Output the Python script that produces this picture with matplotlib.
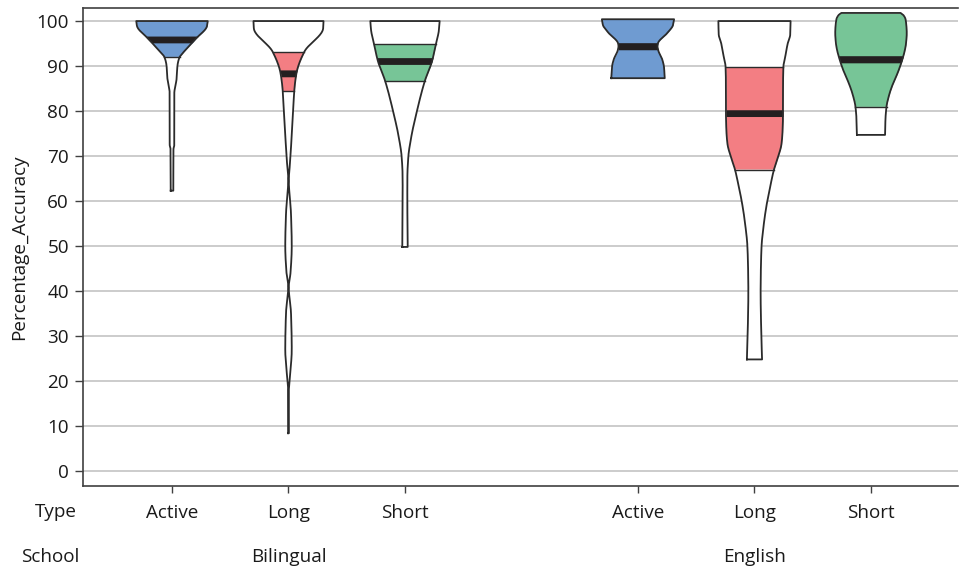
import numpy as np
import matplotlib
matplotlib.use("Agg")
import matplotlib.pyplot as plt
from matplotlib.transforms import blended_transform_factory

plt.rcParams['font.family'] = ['Open Sans', 'DejaVu Sans']

# Groups and categories
schools = ["Bilingual", "English"]
types = ["Active", "Long", "Short"]
positions = [0, 1, 2, 4, 5, 6]
type_labels = ["Active", "Long", "Short", "Active", "Long", "Short"]

# Quartile summaries per violin (Bilingual Active, Long, Short, English Active, Long, Short)
q1 = [92.1, 84.5, 86.7, 87.3, 67.0, 81.0]
median = [95.9, 88.4, 91.1, 94.4, 79.5, 91.5]
q3 = [100.0, 93.2, 95.0, 100.4, 89.8, 101.8]

# Relative density profiles (value levels and normalized half-widths)
ba_y = [62.3, 71.5, 72.5, 84.0, 85.5, 87.0, 90.0, 92.0, 93.0, 96.0, 98.9, 100.0]
ba_w = [0.036, 0.04, 0.064, 0.064, 0.09, 0.125, 0.15, 0.21, 0.31, 0.65, 0.97, 0.99]

bl_y = [8.4, 18.0, 21.0, 27.0, 35.0, 41.0, 44.0, 50.0, 57.0, 65.0, 67.6, 72.0, 79.5, 84.5, 88.4, 93.2, 98.4, 100.0]
bl_w = [0.01, 0.01, 0.04, 0.09, 0.07, 0.006, 0.055, 0.09, 0.07, 0.006, 0.033, 0.07, 0.125, 0.16, 0.22, 0.44, 0.96, 0.97]

bs_y = [49.8, 55.0, 59.5, 65.4, 69.8, 74.3, 79.8, 86.7, 91.1, 95.0, 98.0, 100.0]
bs_w = [0.075, 0.07, 0.064, 0.066, 0.092, 0.175, 0.325, 0.55, 0.75, 0.86, 0.94, 0.96]

ea_y = [87.3, 89.8, 91.5, 93.5, 94.4, 95.0, 97.5, 99.1, 100.4]
ea_w = [0.74, 0.72, 0.67, 0.56, 0.54, 0.55, 0.83, 0.97, 1.0]

el_y = [24.8, 30.0, 39.8, 44.0, 49.8, 55.0, 59.8, 63.0, 67.0, 69.0, 72.8, 76.0, 79.5, 85.0, 89.8, 92.0, 95.0, 97.0, 100.0]
el_w = [0.21, 0.19, 0.17, 0.175, 0.195, 0.26, 0.35, 0.43, 0.54, 0.62, 0.75, 0.78, 0.79, 0.79, 0.80, 0.85, 0.92, 0.99, 1.0]

es_y = [74.7, 78.0, 81.0, 83.5, 86.1, 88.5, 91.5, 93.6, 95.0, 97.3, 100.3, 101.3, 101.8]
es_w = [0.39, 0.40, 0.43, 0.50, 0.61, 0.74, 0.87, 0.94, 0.97, 0.99, 0.96, 0.90, 0.82]

profiles = [(ba_y, ba_w), (bl_y, bl_w), (bs_y, bs_w),
            (ea_y, ea_w), (el_y, el_w), (es_y, es_w)]

colors = ["#6f9bd1", "#f37e83", "#77c597", "#6f9bd1", "#f37e83", "#77c597"]

MAX_HALF = 0.31
EDGE = "#2b2b2b"
TEXT = "#1a1a1a"
FS = 13.6


def pchip(x, y, xn):
    """Monotone cubic (Fritsch-Carlson) interpolation."""
    x = np.asarray(x, float)
    y = np.asarray(y, float)
    h = np.diff(x)
    d = np.diff(y) / h
    m = np.zeros_like(y)
    for k in range(1, len(y) - 1):
        if d[k - 1] * d[k] > 0:
            w1 = 2 * h[k] + h[k - 1]
            w2 = h[k] + 2 * h[k - 1]
            m[k] = (w1 + w2) / (w1 / d[k - 1] + w2 / d[k])
    m[0] = d[0]
    m[-1] = d[-1]
    idx = np.clip(np.searchsorted(x, xn) - 1, 0, len(x) - 2)
    t = (xn - x[idx]) / h[idx]
    h00 = 2 * t**3 - 3 * t**2 + 1
    h10 = t**3 - 2 * t**2 + t
    h01 = -2 * t**3 + 3 * t**2
    h11 = t**3 - t**2
    return h00 * y[idx] + h10 * h[idx] * m[idx] + h01 * y[idx + 1] + h11 * h[idx] * m[idx + 1]


fig = plt.figure(figsize=(9.6, 5.68), dpi=100)
ax = fig.add_axes([83 / 960, 1 - 486 / 568, (958 - 83) / 960, (486 - 8) / 568])

ax.set_xlim(-0.764, 6.747)
ax.set_ylim(-3.33, 102.9)

yt = np.arange(0, 101, 10)
ax.set_yticks(yt)
for v in yt:
    ax.axhline(v, color="#cccccc", lw=1.4, zorder=0)

for pos, (py, pw), lo, med, hi, col in zip(positions, profiles, q1, median, q3, colors):
    py = np.asarray(py, float)
    pw = np.asarray(pw, float) * MAX_HALF
    ys = np.linspace(py[0], py[-1], 600)
    ws = np.maximum(pchip(py, pw, ys), 0.002)
    # white body
    ax.fill_betweenx(ys, pos - ws, pos + ws, color="white", lw=0, zorder=2)
    # interquartile band
    m = (ys >= lo) & (ys <= hi)
    ax.fill_betweenx(ys[m], pos - ws[m], pos + ws[m], color=col, lw=0, zorder=3)
    for edge_y in (lo, hi):
        if py[0] < edge_y < py[-1]:
            w = np.interp(edge_y, ys, ws)
            ax.plot([pos - w, pos + w], [edge_y, edge_y], color=EDGE, lw=1.0, zorder=4)
    # median bar
    mm = (ys >= med - 0.8) & (ys <= med + 0.8)
    ax.fill_betweenx(ys[mm], pos - ws[mm], pos + ws[mm], color="#231f20", lw=0, zorder=5)
    # outline
    ox = np.concatenate([pos - ws, (pos + ws)[::-1], [pos - ws[0]]])
    oy = np.concatenate([ys, ys[::-1], [ys[0]]])
    ax.plot(ox, oy, color=EDGE, lw=1.3, zorder=6, solid_joinstyle="round")

for s in ax.spines.values():
    s.set_color("#404040")
    s.set_linewidth(1.2)
ax.spines["right"].set_visible(False)

ax.tick_params(axis="y", length=6, width=1, color="#404040", labelsize=FS,
               labelcolor=TEXT, pad=4)
ax.set_xticks(positions)
ax.set_xticklabels(type_labels)
ax.tick_params(axis="x", length=5, width=1, color="#404040", labelsize=FS,
               labelcolor=TEXT, pad=8)

ax.set_ylabel("Percentage_Accuracy", fontsize=FS, color=TEXT, labelpad=6)

tr = blended_transform_factory(ax.transData, fig.transFigure)
fig.text(56 / 960, 1 - 512 / 568, "Type", ha="center", va="center", fontsize=FS, color=TEXT)
fig.text(50 / 960, 1 - 557 / 568, "School", ha="center", va="center", fontsize=FS, color=TEXT)
for name, center in zip(schools, [1, 5]):
    ax.text(center, 1 - 557 / 568, name, transform=tr, ha="center", va="center",
            fontsize=FS, color=TEXT)

fig.savefig("out.png", dpi=100)
